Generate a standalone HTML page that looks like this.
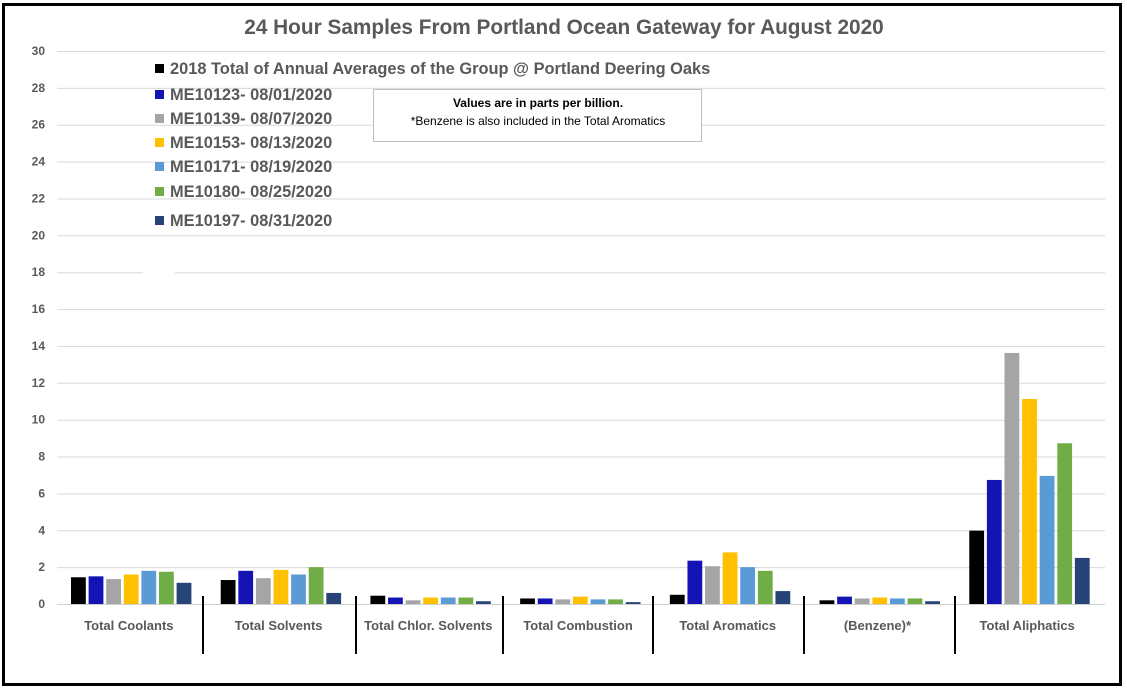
<!DOCTYPE html>
<html><head><meta charset="utf-8"><style>
body{margin:0;background:#fff}
svg{display:block;font-family:"Liberation Sans",Calibri,sans-serif}
</style></head><body>
<svg width="1127" height="689" viewBox="0 0 1127 689" xmlns="http://www.w3.org/2000/svg">
<rect x="0" y="0" width="1127" height="689" fill="#fff"/>
<rect x="3.5" y="4.5" width="1117" height="680" fill="none" stroke="#000" stroke-width="3"/>
<text x="564" y="34" text-anchor="middle" font-size="20.8" font-weight="bold" fill="#595959">24 Hour Samples From Portland Ocean Gateway for August 2020</text>
<g id="grid" stroke="#d9d9d9" stroke-width="1"></g>
<g id="ylab" font-size="12" font-weight="bold" fill="#595959" text-anchor="end"></g>
<g id="bars"></g>
<g id="cats" font-size="13" font-weight="bold" fill="#595959" text-anchor="middle"></g>
<g id="seps" stroke="#000" stroke-width="2"></g>
<rect x="143" y="262" width="32" height="12" fill="#fff"/>
<g id="legend" font-size="16.4" font-weight="bold" fill="#595959"></g>
<rect x="373.5" y="89.5" width="328" height="52" fill="#fff" stroke="#bfbfbf"/>
<text x="538" y="107" text-anchor="middle" font-size="12" font-weight="bold" fill="#000">Values are in parts per billion.</text>
<text x="538" y="125" text-anchor="middle" font-size="12" fill="#000">*Benzene is also included in the Total Aromatics</text>
<script>
var ns="http://www.w3.org/2000/svg";
function el(t,a,p,txt){var e=document.createElementNS(ns,t);for(var k in a)e.setAttribute(k,a[k]);if(txt!=null)e.textContent=txt;document.getElementById(p).appendChild(e);return e;}
var y0=604,sc=553/30;
for(var v=0;v<=30;v+=2){var y=y0-v*sc;el('line',{x1:57,x2:1105,y1:y.toFixed(1)-0+0.5,y2:y.toFixed(1)-0+0.5,stroke:v==0?'#d0d0d0':'#d9d9d9'},'grid');el('text',{x:45,y:y+4},'ylab',v);}
var cols=['#000000','#1414b4','#a5a5a5','#ffc000','#5b9bd5','#70ad47','#264478'];
var data=[[1.45,1.5,1.35,1.6,1.8,1.75,1.15],[1.3,1.8,1.4,1.85,1.6,2.0,0.6],[0.45,0.35,0.2,0.35,0.35,0.35,0.15],[0.3,0.3,0.25,0.4,0.25,0.25,0.1],[0.5,2.35,2.05,2.8,2.0,1.8,0.7],[0.2,0.4,0.3,0.35,0.3,0.3,0.15],[3.98,6.73,13.62,11.12,6.95,8.72,2.5]];
var names=['Total Coolants','Total Solvents','Total Chlor. Solvents','Total Combustion','Total Aromatics','(Benzene)*','Total Aliphatics'];
var cw=(1105-57)/7;
for(var c=0;c<7;c++){var cx=57+c*cw;
 for(var s=0;s<7;s++){var h=data[c][s]*sc;el('rect',{x:cx+14+s*17.6,y:y0-h,width:14.8,height:h,fill:cols[s]},'bars');}
 el('text',{x:cx+cw/2-3,y:630},'cats',names[c]);
 if(c>0){var sx=[0,203,356,503,653,804,955][c];el('line',{x1:sx,x2:sx,y1:596,y2:654},'seps');}
}
var leg=['2018 Total of Annual Averages of the Group @ Portland Deering Oaks','ME10123- 08/01/2020','ME10139- 08/07/2020','ME10153- 08/13/2020','ME10171- 08/19/2020','ME10180- 08/25/2020','ME10197- 08/31/2020'];
var ly=[70,96,120,144,168,193,222];
for(var i=0;i<7;i++){el('rect',{x:155,y:ly[i]-6,width:9,height:9,fill:cols[i]},'legend');el('text',{x:170,y:ly[i]+4},'legend',leg[i]);}
</script>
</svg>
</body></html>
